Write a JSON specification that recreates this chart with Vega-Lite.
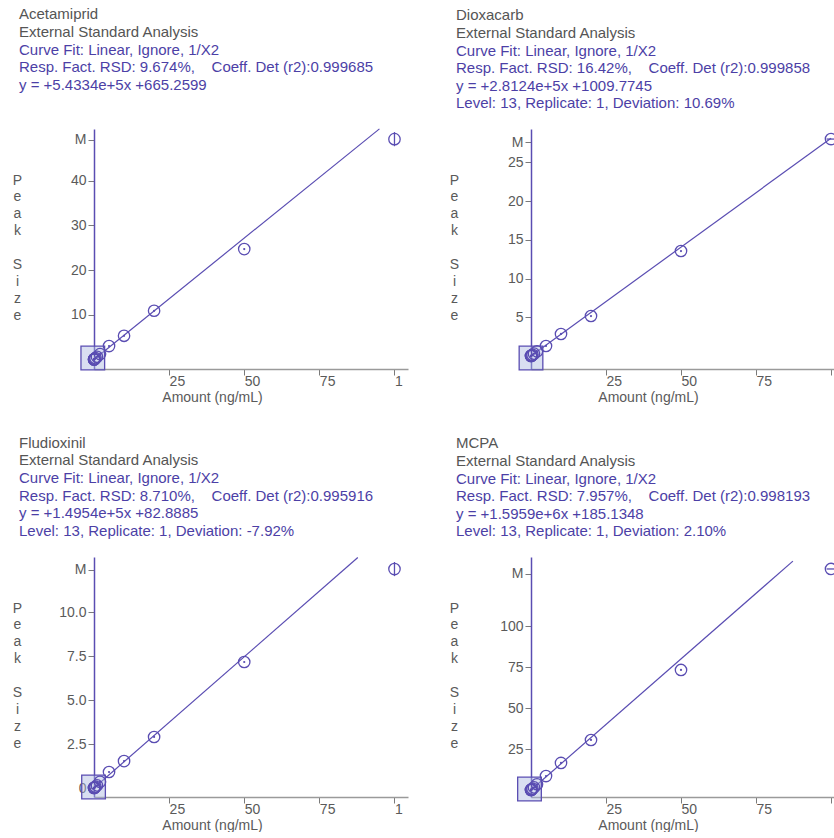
{
  "$schema": "https://vega.github.io/schema/vega-lite/v6.json",
  "background": "white",
  "padding": {"left": 12, "top": 7, "right": 0, "bottom": 0},
  "bounds": "flush",
  "columns": 2,
  "spacing": {"row": 188, "column": 123},
  "datasets": {
    "acet": [
      {"kind": "std", "amount": 0.01, "resp": 0.006},
      {"kind": "std", "amount": 0.02, "resp": 0.012},
      {"kind": "std", "amount": 0.05, "resp": 0.03},
      {"kind": "std", "amount": 0.1, "resp": 0.06},
      {"kind": "std", "amount": 0.2, "resp": 0.12},
      {"kind": "std", "amount": 0.5, "resp": 0.3},
      {"kind": "std", "amount": 1, "resp": 0.6},
      {"kind": "std", "amount": 2, "resp": 1.2},
      {"kind": "std", "amount": 5, "resp": 3.0},
      {"kind": "std", "amount": 10, "resp": 5.3},
      {"kind": "std", "amount": 20, "resp": 10.9},
      {"kind": "std", "amount": 50, "resp": 24.7},
      {"kind": "std", "amount": 100, "resp": 49.3},
      {"kind": "fit", "amount": 0, "resp": 0.0007, "amount2": 95, "resp2": 51.6},
      {"kind": "zoom", "amount": -0.4, "resp": 0.33}
    ],
    "diox": [
      {"kind": "std", "amount": 0.01, "resp": 0.003},
      {"kind": "std", "amount": 0.02, "resp": 0.006},
      {"kind": "std", "amount": 0.05, "resp": 0.015},
      {"kind": "std", "amount": 0.1, "resp": 0.03},
      {"kind": "std", "amount": 0.2, "resp": 0.06},
      {"kind": "std", "amount": 0.5, "resp": 0.15},
      {"kind": "std", "amount": 1, "resp": 0.3},
      {"kind": "std", "amount": 2, "resp": 0.6},
      {"kind": "std", "amount": 5, "resp": 1.29},
      {"kind": "std", "amount": 10, "resp": 2.84},
      {"kind": "std", "amount": 20, "resp": 5.16},
      {"kind": "std", "amount": 50, "resp": 13.55},
      {"kind": "std", "amount": 100, "resp": 28.0},
      {"kind": "fit", "amount": 0, "resp": 0.001, "amount2": 100, "resp2": 28.1},
      {"kind": "zoom", "amount": 0, "resp": -0.26}
    ],
    "flud": [
      {"kind": "std", "amount": 0.01, "resp": 0.0015},
      {"kind": "std", "amount": 0.02, "resp": 0.003},
      {"kind": "std", "amount": 0.05, "resp": 0.008},
      {"kind": "std", "amount": 0.1, "resp": 0.015},
      {"kind": "std", "amount": 0.2, "resp": 0.03},
      {"kind": "std", "amount": 0.5, "resp": 0.075},
      {"kind": "std", "amount": 1, "resp": 0.15},
      {"kind": "std", "amount": 2, "resp": 0.35},
      {"kind": "std", "amount": 5, "resp": 0.91},
      {"kind": "std", "amount": 10, "resp": 1.53},
      {"kind": "std", "amount": 20, "resp": 2.9},
      {"kind": "std", "amount": 50, "resp": 7.16},
      {"kind": "std", "amount": 100, "resp": 12.44},
      {"kind": "fit", "amount": 0, "resp": 0.0001, "amount2": 87.8, "resp2": 13.1},
      {"kind": "zoom", "amount": -0.15, "resp": 0.06}
    ],
    "mcpa": [
      {"kind": "std", "amount": 0.01, "resp": 0.016},
      {"kind": "std", "amount": 0.02, "resp": 0.03},
      {"kind": "std", "amount": 0.05, "resp": 0.08},
      {"kind": "std", "amount": 0.1, "resp": 0.16},
      {"kind": "std", "amount": 0.2, "resp": 0.32},
      {"kind": "std", "amount": 0.5, "resp": 0.8},
      {"kind": "std", "amount": 1, "resp": 1.6},
      {"kind": "std", "amount": 2, "resp": 3.5},
      {"kind": "std", "amount": 5, "resp": 8.5},
      {"kind": "std", "amount": 10, "resp": 16.5},
      {"kind": "std", "amount": 20, "resp": 30.5},
      {"kind": "std", "amount": 50, "resp": 73.2},
      {"kind": "std", "amount": 100, "resp": 134.8},
      {"kind": "fit", "amount": 0, "resp": 0.0002, "amount2": 87.3, "resp2": 139.6},
      {"kind": "zoom", "amount": -0.5, "resp": 0.6}
    ]
  },
  "concat": [
    {
      "width": 314, "height": 240,
      "data": {"name": "acet"},
      "title": {"text": ["Acetamiprid", "External Standard Analysis"], "subtitle": ["Curve Fit: Linear, Ignore, 1/X2", "Resp. Fact. RSD: 9.674%,\u00a0\u00a0\u00a0\u00a0Coeff. Det (r2):0.999685", "y = +5.4334e+5x +665.2599"], "offset": 35.5},
      "encoding": {
        "x": {"field": "amount", "type": "quantitative", "scale": {"domain": [0, 104.5], "nice": false, "zero": false}, "axis": {"values": [25, 50, 75, 100], "labelExpr": "datum.value == 100 ? '1' : datum.label", "title": "Amount (ng/mL)", "titleX": 118, "titleY": 21}},
        "y": {"field": "resp", "type": "quantitative", "scale": {"domain": [-2.13, 51.57], "nice": false, "zero": false}, "axis": {"values": [10, 20, 30, 40, 49.2], "labelExpr": "datum.value > 45 ? 'M' : datum.label", "title": ["P", "e", "a", "k", "\u200b", "S", "i", "z", "e"], "titleLineHeight": 16.9}}
      },
      "layer": [
        {"transform": [{"filter": "datum.kind == 'fit'"}], "mark": {"type": "rule", "color": "#5a4db2", "strokeWidth": 1.2}, "encoding": {"x2": {"field": "amount2"}, "y2": {"field": "resp2"}}},
        {"transform": [{"filter": "datum.kind == 'zoom'"}], "mark": {"type": "point", "shape": "square", "filled": true, "size": 560, "fill": "#aab8e0", "fillOpacity": 0.45, "stroke": "#5a4db2", "strokeWidth": 1.3, "strokeOpacity": 1}},
        {"transform": [{"filter": "datum.kind == 'std' && datum.amount < 100"}], "mark": {"type": "point", "shape": "circle", "filled": false, "size": 130, "strokeWidth": 1.3, "color": "#5a4db2", "opacity": 1}},
        {"transform": [{"filter": "datum.kind == 'std' && datum.amount < 100"}], "mark": {"type": "point", "shape": "circle", "filled": true, "size": 5, "color": "#5a4db2", "opacity": 1}},
        {"transform": [{"filter": "datum.kind == 'std' && datum.amount == 100"}], "mark": {"type": "point", "shape": "circle", "filled": false, "size": 130, "strokeWidth": 1.3, "color": "#5a4db2", "opacity": 1, "clip": true}},
        {"transform": [{"filter": "datum.kind == 'std' && datum.amount == 100"}], "mark": {"type": "point", "shape": "M0,-1L0,1", "filled": false, "size": 200, "strokeWidth": 1.3, "color": "#5a4db2", "opacity": 1, "clip": true}}
      ]
    },
    {
      "width": 303, "height": 240,
      "data": {"name": "diox"},
      "title": {"text": ["Dioxacarb", "External Standard Analysis"], "subtitle": ["Curve Fit: Linear, Ignore, 1/X2", "Resp. Fact. RSD: 16.42%,\u00a0\u00a0\u00a0\u00a0Coeff. Det (r2):0.999858", "y = +2.8124e+5x +1009.7745", "Level: 13, Replicate: 1, Deviation: 10.69%"]},
      "encoding": {
        "x": {"field": "amount", "type": "quantitative", "scale": {"domain": [0, 101], "nice": false, "zero": false}, "axis": {"values": [25, 50, 75, 100], "labelExpr": "datum.value == 100 ? '' : datum.label", "title": "Amount (ng/mL)", "titleX": 117, "titleY": 21}},
        "y": {"field": "resp", "type": "quantitative", "scale": {"domain": [-1.68, 29.3], "nice": false, "zero": false}, "axis": {"values": [5, 10, 15, 20, 25, 27.6], "labelExpr": "datum.value > 26 ? 'M' : datum.label", "title": ["P", "e", "a", "k", "\u200b", "S", "i", "z", "e"], "titleLineHeight": 16.9}}
      },
      "layer": [
        {"transform": [{"filter": "datum.kind == 'fit'"}], "mark": {"type": "rule", "color": "#5a4db2", "strokeWidth": 1.2}, "encoding": {"x2": {"field": "amount2"}, "y2": {"field": "resp2"}}},
        {"transform": [{"filter": "datum.kind == 'zoom'"}], "mark": {"type": "point", "shape": "square", "filled": true, "size": 560, "fill": "#aab8e0", "fillOpacity": 0.45, "stroke": "#5a4db2", "strokeWidth": 1.3, "strokeOpacity": 1}},
        {"transform": [{"filter": "datum.kind == 'std' && datum.amount < 100"}], "mark": {"type": "point", "shape": "circle", "filled": false, "size": 130, "strokeWidth": 1.3, "color": "#5a4db2", "opacity": 1}},
        {"transform": [{"filter": "datum.kind == 'std' && datum.amount < 100"}], "mark": {"type": "point", "shape": "circle", "filled": true, "size": 5, "color": "#5a4db2", "opacity": 1}},
        {"transform": [{"filter": "datum.kind == 'std' && datum.amount == 100"}], "mark": {"type": "point", "shape": "circle", "filled": false, "size": 130, "strokeWidth": 1.3, "color": "#5a4db2", "opacity": 1, "clip": true}},
        {"transform": [{"filter": "datum.kind == 'std' && datum.amount == 100"}], "mark": {"type": "point", "shape": "M-1,0L1,0", "filled": false, "size": 80, "strokeWidth": 1.3, "color": "#5a4db2", "opacity": 1, "clip": true}}
      ]
    },
    {
      "width": 314, "height": 240,
      "data": {"name": "flud"},
      "title": {"text": ["Fludioxinil", "External Standard Analysis"], "subtitle": ["Curve Fit: Linear, Ignore, 1/X2", "Resp. Fact. RSD: 8.710%,\u00a0\u00a0\u00a0\u00a0Coeff. Det (r2):0.995916", "y = +1.4954e+5x +82.8885", "Level: 13, Replicate: 1, Deviation: -7.92%"]},
      "encoding": {
        "x": {"field": "amount", "type": "quantitative", "scale": {"domain": [0, 104.5], "nice": false, "zero": false}, "axis": {"values": [25, 50, 75, 100], "labelExpr": "datum.value == 100 ? '1' : datum.label", "title": "Amount (ng/mL)", "titleX": 118, "titleY": 21}},
        "y": {"field": "resp", "type": "quantitative", "scale": {"domain": [-0.51, 13.125], "nice": false, "zero": false}, "axis": {"values": [0, 2.5, 5, 7.5, 10, 12.4], "labelExpr": "datum.value > 12 ? 'M' : datum.value == 0 ? '0' : format(datum.value, '.1f')", "title": ["P", "e", "a", "k", "\u200b", "S", "i", "z", "e"], "titleLineHeight": 16.9}}
      },
      "layer": [
        {"transform": [{"filter": "datum.kind == 'fit'"}], "mark": {"type": "rule", "color": "#5a4db2", "strokeWidth": 1.2}, "encoding": {"x2": {"field": "amount2"}, "y2": {"field": "resp2"}}},
        {"transform": [{"filter": "datum.kind == 'zoom'"}], "mark": {"type": "point", "shape": "square", "filled": true, "size": 560, "fill": "#aab8e0", "fillOpacity": 0.45, "stroke": "#5a4db2", "strokeWidth": 1.3, "strokeOpacity": 1}},
        {"transform": [{"filter": "datum.kind == 'std' && datum.amount < 100"}], "mark": {"type": "point", "shape": "circle", "filled": false, "size": 130, "strokeWidth": 1.3, "color": "#5a4db2", "opacity": 1}},
        {"transform": [{"filter": "datum.kind == 'std' && datum.amount < 100"}], "mark": {"type": "point", "shape": "circle", "filled": true, "size": 5, "color": "#5a4db2", "opacity": 1}},
        {"transform": [{"filter": "datum.kind == 'std' && datum.amount == 100"}], "mark": {"type": "point", "shape": "circle", "filled": false, "size": 130, "strokeWidth": 1.3, "color": "#5a4db2", "opacity": 1, "clip": true}},
        {"transform": [{"filter": "datum.kind == 'std' && datum.amount == 100"}], "mark": {"type": "point", "shape": "M0,-1L0,1", "filled": false, "size": 200, "strokeWidth": 1.3, "color": "#5a4db2", "opacity": 1, "clip": true}}
      ]
    },
    {
      "width": 303, "height": 240,
      "data": {"name": "mcpa"},
      "title": {"text": ["MCPA", "External Standard Analysis"], "subtitle": ["Curve Fit: Linear, Ignore, 1/X2", "Resp. Fact. RSD: 7.957%,\u00a0\u00a0\u00a0\u00a0Coeff. Det (r2):0.998193", "y = +1.5959e+6x +185.1348", "Level: 13, Replicate: 1, Deviation: 2.10%"]},
      "encoding": {
        "x": {"field": "amount", "type": "quantitative", "scale": {"domain": [0, 101], "nice": false, "zero": false}, "axis": {"values": [25, 50, 75, 100], "labelExpr": "datum.value == 100 ? '' : datum.label", "title": "Amount (ng/mL)", "titleX": 117, "titleY": 21}},
        "y": {"field": "resp", "type": "quantitative", "scale": {"domain": [-4.27, 142.1], "nice": false, "zero": false}, "axis": {"values": [25, 50, 75, 100, 132], "labelExpr": "datum.value > 120 ? 'M' : datum.label", "title": ["P", "e", "a", "k", "\u200b", "S", "i", "z", "e"], "titleLineHeight": 16.9}}
      },
      "layer": [
        {"transform": [{"filter": "datum.kind == 'fit'"}], "mark": {"type": "rule", "color": "#5a4db2", "strokeWidth": 1.2}, "encoding": {"x2": {"field": "amount2"}, "y2": {"field": "resp2"}}},
        {"transform": [{"filter": "datum.kind == 'zoom'"}], "mark": {"type": "point", "shape": "square", "filled": true, "size": 560, "fill": "#aab8e0", "fillOpacity": 0.45, "stroke": "#5a4db2", "strokeWidth": 1.3, "strokeOpacity": 1}},
        {"transform": [{"filter": "datum.kind == 'std' && datum.amount < 100"}], "mark": {"type": "point", "shape": "circle", "filled": false, "size": 130, "strokeWidth": 1.3, "color": "#5a4db2", "opacity": 1}},
        {"transform": [{"filter": "datum.kind == 'std' && datum.amount < 100"}], "mark": {"type": "point", "shape": "circle", "filled": true, "size": 5, "color": "#5a4db2", "opacity": 1}},
        {"transform": [{"filter": "datum.kind == 'std' && datum.amount == 100"}], "mark": {"type": "point", "shape": "circle", "filled": false, "size": 130, "strokeWidth": 1.3, "color": "#5a4db2", "opacity": 1, "clip": true}},
        {"transform": [{"filter": "datum.kind == 'std' && datum.amount == 100"}], "mark": {"type": "point", "shape": "M-1,0L1,0", "filled": false, "size": 80, "strokeWidth": 1.3, "color": "#5a4db2", "opacity": 1, "clip": true}}
      ]
    }
  ],
  "config": {
    "font": "Liberation Sans",
    "view": {"stroke": null},
    "axis": {"grid": false, "labelFont": "Liberation Sans", "labelFontSize": 14, "labelColor": "#5a5a5a", "tickColor": "#7a7a7a", "titleFont": "Liberation Sans", "titleFontSize": 14, "titleFontWeight": "normal", "titleColor": "#5a5a5a", "labelOverlap": false, "labelFlush": false, "labelBound": false},
    "axisX": {"domainColor": "#9a9a9a", "domainWidth": 1.5, "tickSize": 6, "labelAlign": "left", "labelDx": 1, "labelPadding": -1, "labelBaseline": "top", "titleAlign": "center", "titleBaseline": "top", "titleAnchor": null},
    "axisY": {"domainColor": "#5a4db2", "domainWidth": 1.5, "tickSize": 6, "labelPadding": 2, "titleAngle": 0, "titleX": -77, "titleY": 44, "titleAlign": "center", "titleBaseline": "top", "titleAnchor": null},
    "title": {"anchor": "start", "frame": "group", "dx": -75, "offset": 18, "font": "Liberation Sans", "fontSize": 15, "fontWeight": "normal", "lineHeight": 17.5, "color": "#555555", "subtitleFont": "Liberation Sans", "subtitleFontSize": 15, "subtitleLineHeight": 17.5, "subtitleColor": "#4c3fa6", "subtitlePadding": 0}
  }
}
